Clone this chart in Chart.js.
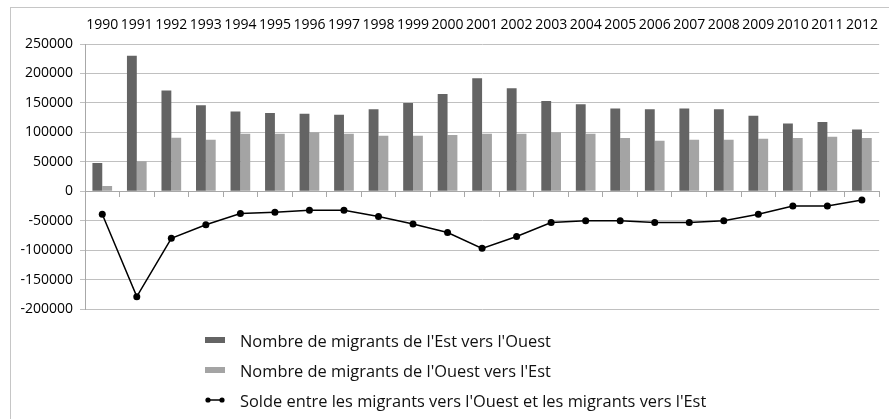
<!DOCTYPE html>
<html>
<head>
<meta charset="utf-8">
<script src="https://cdn.jsdelivr.net/npm/chart.js@4.4.1/dist/chart.umd.min.js"></script>
<style>
  body { margin: 0; background: #fff; }
  #wrap { position: relative; width: 889px; height: 419px; overflow: hidden; }
  #frame { position: absolute; left: 10px; top: 7px; width: 900px; height: 430px;
           border-left: 1px solid #c6c6c6; border-top: 1px solid #c6c6c6; }
  canvas { position: absolute; left: 0; top: 0; }
  #legend { position: absolute; left: 205px; top: 325px; font-family: 'Open Sans', sans-serif;
            font-size: 16.4px; color: #111; }
  .item { display: flex; align-items: center; height: 30px; }
  .swatch { width: 20px; margin-right: 15px; flex: none; }
</style>
</head>
<body>
<div id="wrap">
  <div id="frame"></div>
  <canvas id="migChart" width="889" height="419"></canvas>
  <div id="legend"></div>
</div>
<script>
// data
const years = ['1990', '1991', '1992', '1993', '1994', '1995', '1996', '1997', '1998', '1999', '2000',
  '2001', '2002', '2003', '2004', '2005', '2006', '2007', '2008', '2009', '2010', '2011', '2012'];
const estVersOuest = [48000, 230000, 171000, 146000, 135500, 133000, 131500, 130000, 139000, 150000, 165000,
  192000, 175000, 153000, 147500, 140500, 139000, 140500, 139000, 128000, 115000, 117500, 105000];
const ouestVersEst = [9000, 51000, 91000, 87500, 97500, 97500, 100000, 97500, 94000, 94000, 95500,
  97500, 97500, 100000, 97500, 90500, 85500, 87500, 87500, 89000, 90500, 92500, 90500];
const solde = [-39000, -179000, -80000, -57000, -38000, -35500, -32500, -32500, -43000, -55500, -70000,
  -97000, -77000, -53000, -50000, -50000, -53000, -53000, -50000, -39000, -25000, -25000, -15000];
const yMin = -200000, yMax = 250000, yStep = 50000;

const labels = [
  "Nombre de migrants de l'Est vers l'Ouest",
  "Nombre de migrants de l'Ouest vers l'Est",
  "Solde entre les migrants vers l'Ouest et les migrants vers l'Est"
];

const tickFont = { family: 'Open Sans', size: 14 };

const ctx = document.getElementById('migChart').getContext('2d');
const chart = new Chart(ctx, {
  type: 'bar',
  data: {
    labels: years,
    datasets: [{
      label: labels[0],
      data: estVersOuest,
      backgroundColor: '#646464',
      categoryPercentage: 0.57,
      barPercentage: 1,
      order: 2
    }, {
      label: labels[1],
      data: ouestVersEst,
      backgroundColor: '#a4a4a4',
      categoryPercentage: 0.57,
      barPercentage: 1,
      order: 2
    }, {
      type: 'line',
      label: labels[2],
      data: solde,
      borderColor: '#000',
      backgroundColor: '#000',
      borderWidth: 1.5,
      pointRadius: 3.5,
      pointBorderWidth: 0,
      pointBackgroundColor: '#000',
      tension: 0,
      order: 1
    }]
  },
  options: {
    responsive: false,
    animation: false,
    layout: { padding: { left: 0, top: 0, right: 2, bottom: 110 } },
    plugins: {
      legend: { display: false },
      tooltip: { enabled: false }
    },
    scales: {
      x: {
        position: 'top',
        grid: { display: false, drawTicks: false },
        border: { display: false },
        ticks: { autoSkip: false, maxRotation: 0, padding: 11, color: '#000', font: tickFont },
        afterFit: s => { s.height = 44; }
      },
      // axis line + tick marks on the zero line
      xZero: {
        type: 'category',
        position: { y: 0 },
        offset: true,
        grid: { display: true, offset: true, drawOnChartArea: false, tickLength: 5, color: '#a8a8a8' },
        border: { display: true, color: '#a8a8a8' },
        ticks: { display: false }
      },
      y: {
        min: yMin,
        max: yMax,
        ticks: {
          stepSize: yStep,
          padding: 7,
          color: '#000',
          font: tickFont,
          callback: v => String(v)
        },
        grid: { color: '#c0c0c0', tickLength: 5 },
        border: { color: '#a8a8a8' },
        afterFit: s => { s.width = 85; }
      }
    }
  }
});

// legend below the plot, one item per row
const legendBox = document.getElementById('legend');
chart.data.datasets.forEach(ds => {
  const item = document.createElement('div');
  item.className = 'item';
  let sw;
  if (ds.type === 'line') {
    sw = document.createElementNS('http://www.w3.org/2000/svg', 'svg');
    sw.setAttribute('width', '20');
    sw.setAttribute('height', '8');
    sw.innerHTML = '<line x1="3" y1="4" x2="17" y2="4" stroke="#000" stroke-width="1.5"/>' +
      '<circle cx="3" cy="4" r="2.6" fill="#000"/><circle cx="17" cy="4" r="2.6" fill="#000"/>';
    sw.classList.add('swatch');
  } else {
    sw = document.createElement('div');
    sw.className = 'swatch';
    sw.style.height = '6px';
    sw.style.background = ds.backgroundColor;
  }
  const txt = document.createElement('span');
  txt.textContent = ds.label;
  item.appendChild(sw);
  item.appendChild(txt);
  legendBox.appendChild(item);
});
</script>
</body>
</html>
